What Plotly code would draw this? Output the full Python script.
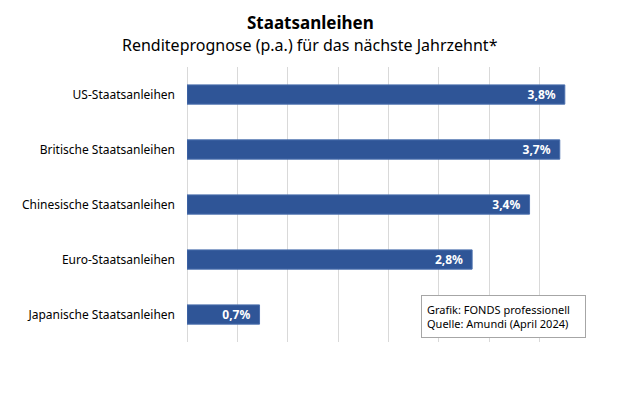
import plotly.graph_objects as go

categories = ["US-Staatsanleihen", "Britische Staatsanleihen", "Chinesische Staatsanleihen",
              "Euro-Staatsanleihen", "Japanische Staatsanleihen"]
values = [3.75, 3.7, 3.4, 2.83, 0.72]
labels = ["3,8%", "3,7%", "3,4%", "2,8%", "0,7%"]
x_ticks = [0, 0.5, 1.0, 1.5, 2.0, 2.5, 3.0, 3.5, 4.0]

font_family = "Noto Sans, Liberation Sans, sans-serif"

L, R, T, B = 187, 30, 67, 71
W, H = 620, 413
pw, ph = W - L - R, H - T - B

fig = go.Figure(go.Bar(
    x=values, y=categories, orientation="h",
    marker=dict(color="#2F5597", line=dict(color="#4A6FAE", width=1)),
    width=0.35,
    text=[l + "  " for l in labels], textposition="inside", insidetextanchor="end",
    constraintext="none",
    textfont=dict(color="white", size=12, family=font_family, weight="bold"),
    cliponaxis=False, hoverinfo="skip",
))

def px_to_paper(px, py):
    return (px - L) / pw, 1 + (T - py) / ph

tx, ty = px_to_paper(310, 22)
sx, sy = px_to_paper(310, 45)

fig.update_layout(
    width=W, height=H,
    margin=dict(l=L, r=R, t=T, b=B, autoexpand=False),
    paper_bgcolor="white", plot_bgcolor="white",
    showlegend=False,
    xaxis=dict(range=[0, 4.0], tickvals=x_ticks, showticklabels=False,
               showgrid=True, gridcolor="#D9D9D9", gridwidth=1,
               zeroline=True, zerolinecolor="#D9D9D9", zerolinewidth=1,
               automargin=False, fixedrange=True),
    yaxis=dict(categoryorder="array", categoryarray=categories[::-1],
               tickfont=dict(size=12, color="#000000", family=font_family),
               ticklabelstandoff=11, showgrid=False, zeroline=False, showline=False,
               automargin=False, range=[-0.5, 4.5], fixedrange=True),
    font=dict(family=font_family),
    annotations=[
        dict(text="<b>Staatsanleihen</b>", x=tx, y=ty, xref="paper", yref="paper",
             xanchor="center", yanchor="middle", showarrow=False,
             font=dict(size=17, color="black", family=font_family)),
        dict(text="Renditeprognose (p.a.) für das nächste Jahrzehnt*", x=sx, y=sy,
             xref="paper", yref="paper", xanchor="center", yanchor="middle",
             showarrow=False, font=dict(size=16, color="black", family=font_family)),
        dict(text="Grafik: FONDS professionell<br>Quelle: Amundi (April 2024)",
             x=(421 - L) / pw, y=1 + (T - 295) / ph, xref="paper", yref="paper",
             xanchor="left", yanchor="top", width=153, height=31,
             align="left", showarrow=False, bgcolor="white", bordercolor="#A6A6A6",
             borderwidth=1, borderpad=5,
             font=dict(size=11, color="black", family=font_family)),
    ],
)

fig.write_html("out.html", config={"displayModeBar": False},
               post_script="document.body.style.margin='0';document.body.style.overflow='hidden';")
